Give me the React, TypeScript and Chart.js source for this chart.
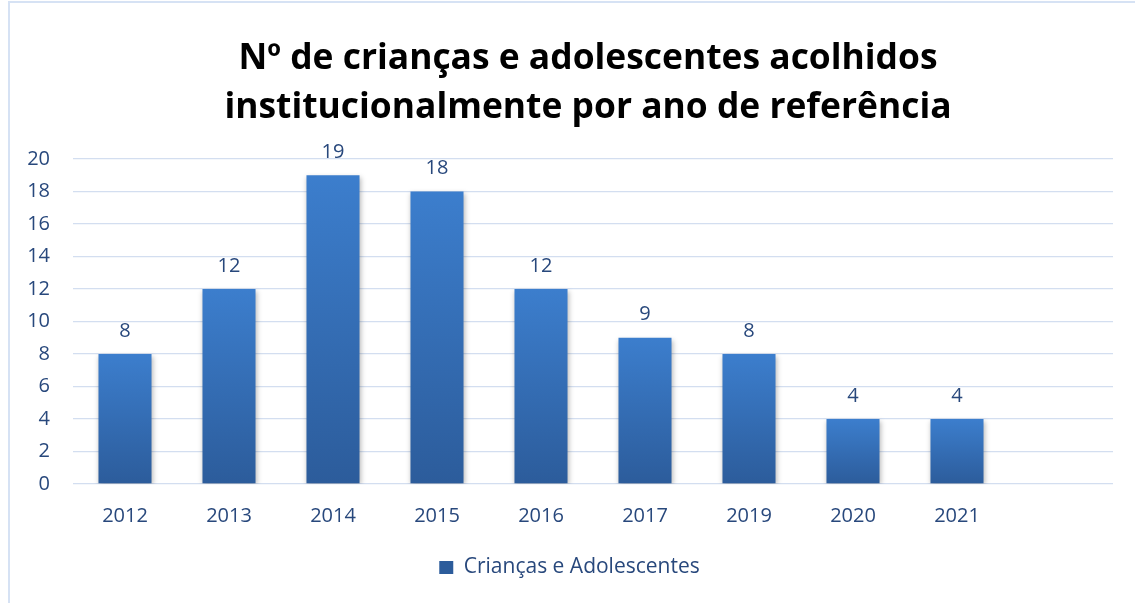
import React, { useEffect, useRef } from "react";
import { Chart, registerables } from "chart.js";

Chart.register(...registerables);

const categories = ["2012", "2013", "2014", "2015", "2016", "2017", "2019", "2020", "2021", ""];
const values: (number | null)[] = [8, 12, 19, 18, 12, 9, 8, 4, 4, null];
const seriesName = "Crianças e Adolescentes";
const titleLines = ["Nº de crianças e adolescentes acolhidos", "institucionalmente por ano de referência"];
const yMin = 0;
const yMax = 20;
const yStep = 2;

const FONT = "'Open Sans', 'Noto Sans', sans-serif";
const TEXT = "#28487C";
const GRID = "#D3DEF0";

const valueLabels = {
  id: "valueLabels",
  afterDatasetsDraw(chart: any) {
    const ctx = chart.ctx;
    const meta = chart.getDatasetMeta(0);
    ctx.save();
    ctx.font = `20px ${FONT}`;
    ctx.fillStyle = TEXT;
    ctx.textAlign = "center";
    ctx.textBaseline = "middle";
    meta.data.forEach((bar: any, i: number) => {
      const v = values[i];
      if (v == null) return;
      ctx.fillText(String(v), bar.x, bar.y - 23);
    });
    ctx.restore();
  },
};

const barShadow = {
  id: "barShadow",
  beforeDatasetDraw(chart: any) {
    const ctx = chart.ctx;
    ctx.save();
    ctx.shadowColor = "rgba(0,0,0,0.28)";
    ctx.shadowBlur = 5;
    ctx.shadowOffsetX = 1;
    ctx.shadowOffsetY = 2;
  },
  afterDatasetDraw(chart: any) {
    chart.ctx.restore();
  },
};

// Center the title over the whole chart object (as the spreadsheet does)
const titleOverWholeChart = {
  id: "titleOverWholeChart",
  afterLayout(chart: any) {
    const t = chart.titleBlock;
    if (t) {
      t.left = 0;
      t.right = chart.width;
      t.width = chart.width;
    }
  },
};

export default function App() {
  const ref = useRef<HTMLCanvasElement | null>(null);

  useEffect(() => {
    if (!ref.current) return;
    const chart = new Chart(ref.current, {
      type: "bar",
      data: {
        labels: categories,
        datasets: [
          {
            label: seriesName,
            data: values as any,
            borderWidth: 0,
            categoryPercentage: 1,
            barPercentage: 0.51,
            backgroundColor: (c: any) => {
              const chart = c.chart;
              const ca = chart.chartArea;
              if (!ca || c.dataIndex == null || c.type !== "data") return "#3672BC";
              const y = chart.scales.y;
              const v = values[c.dataIndex] ?? 0;
              const top = y.getPixelForValue(v);
              const bot = y.getPixelForValue(0);
              if (!isFinite(top) || !isFinite(bot) || top === bot) return "#3672BC";
              const g = chart.ctx.createLinearGradient(0, top, 0, bot);
              g.addColorStop(0, "#3C7ECD");
              g.addColorStop(1, "#2C5C9B");
              return g;
            },
          },
        ],
      },
      options: {
        responsive: false,
        maintainAspectRatio: false,
        animation: false,
        layout: { padding: { left: 18, right: 55, top: 0, bottom: 53 } },
        scales: {
          x: {
            grid: { display: false, drawTicks: false },
            border: { display: false },
            ticks: { color: TEXT, font: { family: FONT, size: 20 }, padding: 20, maxRotation: 0 },
            afterFit: (s: any) => {
              s.height = 63;
            },
          },
          y: {
            min: yMin,
            max: yMax,
            grid: { color: GRID, lineWidth: 1.3, drawTicks: false },
            border: { display: false },
            ticks: { stepSize: yStep, color: TEXT, font: { family: FONT, size: 20 }, padding: 23 },
            afterFit: (s: any) => {
              s.width = 47;
            },
          },
        },
        plugins: {
          title: {
            display: true,
            text: titleLines,
            color: "#000000",
            font: { family: FONT, size: 35.4, weight: "bold", lineHeight: 1.384 },
            padding: { top: 33, bottom: 27 },
          },
          legend: {
            display: true,
            position: "bottom",
            labels: {
              color: TEXT,
              font: { family: FONT, size: 21 },
              boxWidth: 14,
              boxHeight: 13,
              padding: 10,
            },
          },
          tooltip: { enabled: false },
        },
      },
      plugins: [barShadow, valueLabels, titleOverWholeChart],
    });
    return () => chart.destroy();
  }, []);

  return (
    <div style={{ position: "fixed", left: 0, top: 0, width: 1135, height: 603, overflow: "hidden", background: "#fff" }}>
      <canvas
        ref={ref}
        width={1160}
        height={640}
        style={{ position: "absolute", left: 8, top: 1, width: 1160, height: 640 }}
      />
      <div
        style={{
          position: "absolute",
          left: 8,
          top: 1,
          width: 1200,
          height: 700,
          borderLeft: "2px solid #D6E2F4",
          borderTop: "2px solid #D6E2F4",
          pointerEvents: "none",
        }}
      />
    </div>
  );
}
